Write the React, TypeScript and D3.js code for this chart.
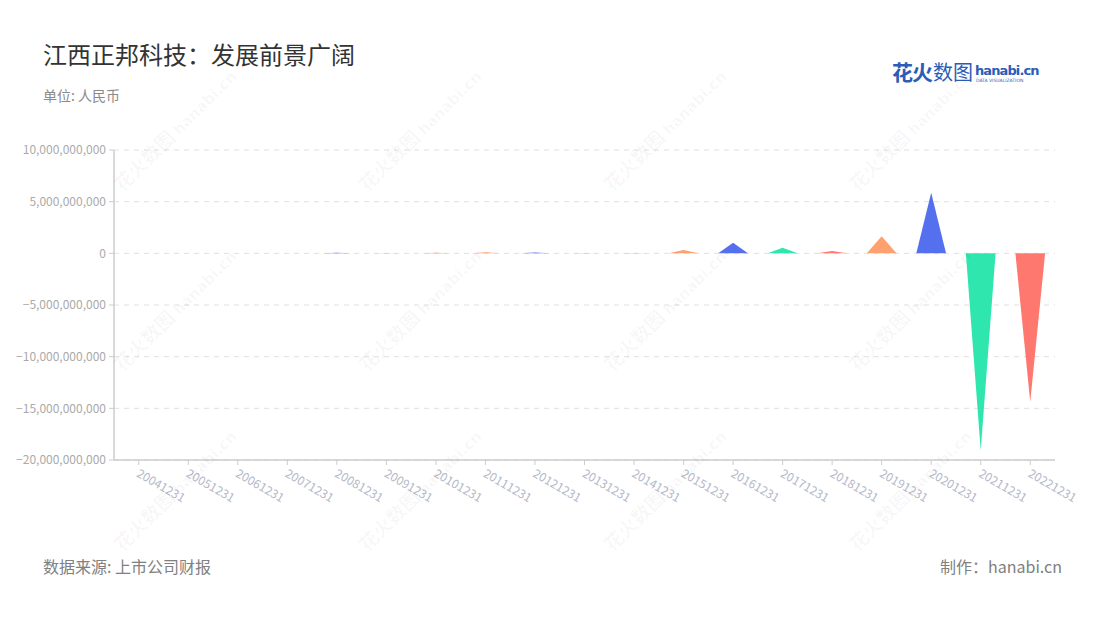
import React from "react";
import * as d3 from "d3";

const categories = [
  "20041231", "20051231", "20061231", "20071231", "20081231", "20091231", "20101231",
  "20111231", "20121231", "20131231", "20141231", "20151231", "20161231", "20171231",
  "20181231", "20191231", "20201231", "20211231", "20221231",
];
const values = [
  20e6, 20e6, 15e6, 10e6, 50e6, 40e6, 60e6,
  110e6, 70e6, 30e6, 30e6, 320e6, 1030e6, 550e6,
  220e6, 1650e6, 5870e6, -19070e6, -14390e6,
];
const palette = ["#5470ee", "#2ee6ae", "#ff7870", "#ffa06f"];
const yTicks = [10e9, 5e9, 0, -5e9, -10e9, -15e9, -20e9];

const W = 1100;
const H = 620;
const M = { left: 114, right: 1055, top: 150, bottom: 460 };
const FONT = "'Noto Sans CJK SC', 'Noto Sans', sans-serif";

export default function App() {
  const x = d3.scaleBand<string>().domain(categories).range([M.left, M.right]).paddingInner(0).paddingOuter(0);
  const y = d3.scaleLinear().domain([-20e9, 10e9]).range([M.bottom, M.top]);
  const fmt = d3.format(",");
  const bw = x.bandwidth();
  const triW = bw * 0.6;
  const y0 = y(0);

  const wmCols = [180, 425, 670, 915];
  const wmRows = [135, 315, 495];

  return (
    <svg width={W} height={H} style={{ position: "absolute", left: 0, top: 0, background: "#fff" }} fontFamily={FONT}>
      <rect x={0} y={0} width={W} height={H} fill="#fff" />
      {/* title */}
      <text x={43} y={64} fontSize={24} fill="#333">江西正邦科技：发展前景广阔</text>
      <text x={43} y={101} fontSize={14} fill="#8a8a8a">单位: 人民币</text>

      {/* logo */}
      <text x={892} y={80} fontSize={21} fontWeight="bold" fill="#2a5cb8" letterSpacing={-1}>花火</text>
      <text x={933} y={80} fontSize={20} fill="#2a5cb8">数图</text>
      <text x={975} y={75} fontSize={13} fontWeight="bold" fill="#2a5cb8" fontFamily="'DejaVu Sans', sans-serif" letterSpacing={-0.9}>hanabi.cn</text>
      <text x={976} y={82} fontSize={4.5} fill="#2a5cb8" fontFamily="'DejaVu Sans', sans-serif">DATA VISUALIZATION</text>

      {/* grid */}
      {yTicks.map((t) => (
        <line key={"g" + t} x1={M.left} x2={M.right} y1={y(t)} y2={y(t)} stroke="#e0e0e0" strokeDasharray="5,5" strokeWidth={1} />
      ))}

      {/* triangles */}
      {values.map((v, i) => {
        const cx = (x(categories[i]) as number) + bw / 2;
        const d = d3.path();
        d.moveTo(cx - triW / 2, y0);
        d.lineTo(cx, y(v));
        d.lineTo(cx + triW / 2, y0);
        d.closePath();
        return <path key={"t" + i} d={d.toString()} fill={palette[i % 4]} />;
      })}

      {/* y axis */}
      <line x1={M.left} x2={M.left} y1={M.top} y2={M.bottom} stroke="#ccc" strokeWidth={1.5} />
      {yTicks.map((t) => (
        <g key={"yt" + t}>
          <line x1={M.left - 5} x2={M.left} y1={y(t)} y2={y(t)} stroke="#ccc" />
          <text x={M.left - 8} y={y(t)} dy="0.35em" textAnchor="end" fontSize={12} fill="#aaa">{fmt(t)}</text>
        </g>
      ))}

      {/* x axis */}
      <line x1={M.left} x2={M.right} y1={M.bottom} y2={M.bottom} stroke="#ccc" strokeWidth={1.5} />
      {categories.map((c) => {
        const cx = (x(c) as number) + bw / 2;
        return (
          <g key={"xt" + c}>
            <line x1={cx} x2={cx} y1={M.bottom} y2={M.bottom + 5} stroke="#ccc" />
            <text transform={`translate(${cx - 3},${M.bottom + 16}) rotate(30)`} fontSize={12} fill="#b4b8c8">{c}</text>
          </g>
        );
      })}

      {/* watermarks */}
      {wmRows.map((ry) =>
        wmCols.map((cx) => (
          <text key={"wm" + ry + "-" + cx} transform={`translate(${cx},${ry}) rotate(-45)`} textAnchor="middle" fontSize={19} fontWeight="bold" fill="#000" fillOpacity={0.035}>
            花火数图 <tspan fontSize={15} fontFamily="'DejaVu Sans', sans-serif">hanabi.cn</tspan>
          </text>
        ))
      )}

      {/* footer */}
      <text x={43} y={573} fontSize={16} fill="#808080">数据来源: 上市公司财报</text>
      <text x={1062} y={573} fontSize={16} fill="#808080" textAnchor="end">制作：hanabi.cn</text>
    </svg>
  );
}
